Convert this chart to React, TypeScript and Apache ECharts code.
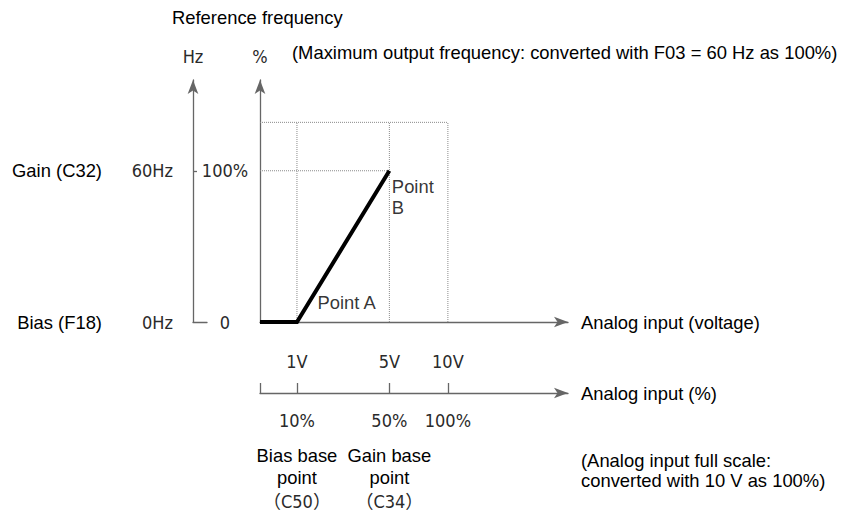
import React, { useEffect, useRef } from "react";
import * as echarts from "echarts";

// Schematic (not-to-scale) positions of the input levels along the input axis (0..100 diagram units)
const inputPos = [12, 42, 61];
const voltLabels = ["1V", "5V", "10V"];
const inputPctLabels = ["10%", "50%", "100%"];
const baseNames = ["Bias base\npoint", "Gain base\npoint"];
const baseCodes = ["（C50）", "（C34）"];

// Output (reference frequency) levels in %
const outLevels = [0, 100];
const hzLabels = ["0Hz", "60Hz"];
const pctLabels = ["0", "100%"];
const paramLabels = ["Bias (F18)", "Gain (C32)"];
const fullScaleLevel = 132;

// Characteristic curve: bias point A (1V, 0%) -> gain point B (5V, 100%)
const curveX = [0, inputPos[0], inputPos[1]];
const curveY = [0, 0, 100];
const pointNames = ["Point A", "Point\nB"];

const X_MAX = 100;
const Y_MAX = 160;

const AX = "#666666";
const ARIAL = "'Liberation Sans', Arial, sans-serif";
const GOTHIC = "'Liberation Sans Narrow', 'Arial Narrow', 'DejaVu Sans Condensed', 'Noto Sans CJK JP', sans-serif";

const gothicLabel = { fontFamily: GOTHIC, fontSize: 18, color: "#2a2a2a" };
const arialText = { fontFamily: ARIAL, fontSize: 18.4, color: "#000", fontWeight: "normal" as const };
const arrowLine = {
  show: true,
  symbol: ["none", "arrow"],
  symbolSize: [8, 14],
  lineStyle: { color: AX, width: 1.3 },
};

export default function App() {
  const ref = useRef<HTMLDivElement>(null);

  useEffect(() => {
    if (!ref.current) return;
    const chart = echarts.init(ref.current, undefined, { renderer: "svg" });

    const guideSegments: number[][][] = [
      ...inputPos.map((x) => [
        [x, 0],
        [x, fullScaleLevel],
      ]),
      [
        [0, fullScaleLevel],
        [inputPos[2], fullScaleLevel],
      ],
      [
        [0, curveY[2]],
        [inputPos[1], curveY[2]],
      ],
    ];

    const option: any = {
      animation: false,
      backgroundColor: "#ffffff",
      title: [
        { text: "Reference frequency", left: 172, top: 8, padding: 0, textStyle: arialText },
        {
          text: "(Maximum output frequency: converted with F03 = 60 Hz as 100%)",
          left: 292,
          top: 43,
          padding: 0,
          textStyle: arialText,
        },
        {
          text: "(Analog input full scale:\nconverted with 10 V as 100%)",
          left: 581,
          top: 450,
          padding: 0,
          textStyle: { ...arialText, lineHeight: 20 },
        },
      ],
      grid: [
        { left: 260, width: 308, top: 80, bottom: 192 },
        { left: 193, width: 14, top: 80, bottom: 192 },
      ],
      xAxis: [
        {
          gridIndex: 0,
          type: "value",
          min: 0,
          max: X_MAX,
          position: "bottom",
          axisLine: arrowLine,
          axisTick: { show: false },
          splitLine: { show: false },
          axisLabel: {
            customValues: inputPos,
            formatter: (v: number) => voltLabels[inputPos.indexOf(v)] ?? "",
            margin: 30,
            ...gothicLabel,
          },
          name: "Analog input (voltage)",
          nameLocation: "end",
          nameGap: 13,
          nameTextStyle: arialText,
        },
        {
          gridIndex: 0,
          type: "value",
          min: 0,
          max: X_MAX,
          position: "bottom",
          offset: 71,
          axisLine: arrowLine,
          axisTick: {
            show: true,
            inside: true,
            length: 10,
            customValues: [0, ...inputPos],
            lineStyle: { color: AX, width: 1.3 },
          },
          splitLine: { show: false },
          axisLabel: {
            customValues: inputPos,
            formatter: (v: number) => inputPctLabels[inputPos.indexOf(v)] ?? "",
            margin: 18,
            ...gothicLabel,
          },
          name: "Analog input (%)",
          nameLocation: "end",
          nameGap: 13,
          nameTextStyle: arialText,
        },
        {
          gridIndex: 0,
          type: "value",
          min: 0,
          max: X_MAX,
          position: "bottom",
          offset: 71,
          axisLine: { show: false },
          axisTick: { show: false },
          splitLine: { show: false },
          axisLabel: {
            customValues: inputPos.slice(0, 2),
            formatter: (v: number) => {
              const i = inputPos.indexOf(v);
              if (i < 0 || i > 1) return "";
              return (
                baseNames[i]
                  .split("\n")
                  .map((s) => `{a|${s}}`)
                  .join("\n") + `\n{b|${baseCodes[i]}}`
              );
            },
            margin: 51,
            rich: {
              a: { fontFamily: ARIAL, fontSize: 18.4, lineHeight: 22, color: "#000" },
              b: { fontFamily: GOTHIC, fontSize: 18, lineHeight: 26, color: "#2a2a2a" },
            },
          },
        },
        {
          gridIndex: 1,
          type: "value",
          min: 0,
          max: 1,
          position: "bottom",
          axisLine: { show: true, lineStyle: { color: AX, width: 1.3 } },
          axisTick: { show: false },
          axisLabel: { show: false },
          splitLine: { show: false },
        },
      ],
      yAxis: [
        {
          gridIndex: 0,
          type: "value",
          position: "left",
          min: 0,
          max: Y_MAX,
          axisLine: arrowLine,
          axisTick: { show: false },
          splitLine: { show: false },
          axisLabel: {
            customValues: outLevels,
            formatter: (v: number) => pctLabels[outLevels.indexOf(v)] ?? "",
            align: "center",
            margin: 35,
            ...gothicLabel,
          },
          name: "%",
          nameLocation: "end",
          nameGap: 15,
          nameTextStyle: { ...gothicLabel },
        },
        {
          gridIndex: 1,
          type: "value",
          position: "left",
          min: 0,
          max: Y_MAX,
          axisLine: arrowLine,
          axisTick: {
            show: true,
            inside: true,
            length: 4,
            customValues: [outLevels[1]],
            lineStyle: { color: AX, width: 1.3 },
          },
          splitLine: { show: false },
          axisLabel: {
            customValues: outLevels,
            formatter: (v: number) => hzLabels[outLevels.indexOf(v)] ?? "",
            margin: 20,
            ...gothicLabel,
          },
          name: "Hz",
          nameLocation: "end",
          nameGap: 15,
          nameTextStyle: { ...gothicLabel },
        },
        {
          gridIndex: 1,
          type: "value",
          position: "left",
          offset: 0,
          min: 0,
          max: Y_MAX,
          axisLine: { show: false },
          axisTick: { show: false },
          splitLine: { show: false },
          axisLabel: {
            customValues: outLevels,
            formatter: (v: number) => paramLabels[outLevels.indexOf(v)] ?? "",
            margin: 91,
            fontFamily: ARIAL,
            fontSize: 18.4,
            color: "#000",
          },
        },
      ],
      series: [
        ...guideSegments.map((seg) => ({
          type: "line",
          xAxisIndex: 0,
          yAxisIndex: 0,
          data: seg,
          symbol: "none",
          silent: true,
          z: 1,
          lineStyle: { color: "#8a8a8a", width: 1, type: "dotted" },
        })),
        {
          type: "line",
          xAxisIndex: 0,
          yAxisIndex: 0,
          data: curveX.map((x, i) => [x, curveY[i]]),
          symbol: "none",
          z: 5,
          lineStyle: { color: "#000", width: 4, cap: "butt", join: "miter" },
        },
        {
          type: "scatter",
          xAxisIndex: 0,
          yAxisIndex: 0,
          symbolSize: 1,
          itemStyle: { color: "rgba(0,0,0,0)" },
          z: 6,
          label: {
            show: true,
            position: "right",
            distance: 0,
            formatter: (p: any) => pointNames[p.dataIndex],
            fontFamily: ARIAL,
            fontSize: 18.4,
            lineHeight: 21,
            color: "#000",
          },
          data: [
            { value: [curveX[1], curveY[1]], label: { offset: [20, -20] } },
            { value: [curveX[2], curveY[2]], label: { offset: [2, 26] } },
          ],
        },
      ],
    };

    chart.setOption(option);
    return () => chart.dispose();
  }, []);

  return (
    <div
      ref={ref}
      style={{ position: "fixed", left: 0, top: 0, width: 845, height: 514, background: "#fff" }}
    />
  );
}
